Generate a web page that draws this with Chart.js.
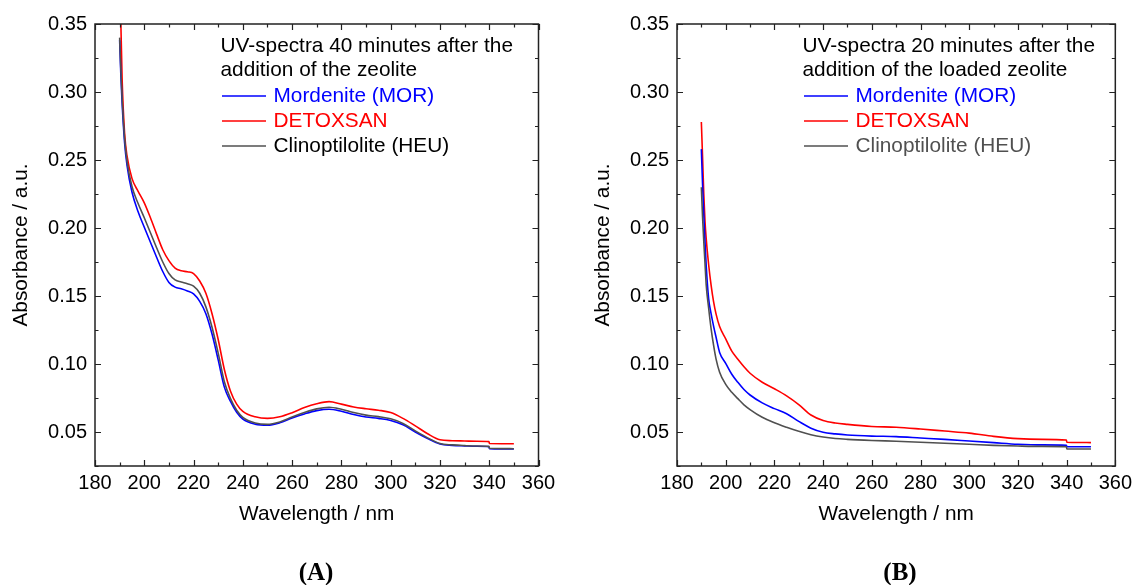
<!DOCTYPE html>
<html><head><meta charset="utf-8">
<script src="https://cdn.jsdelivr.net/npm/chart.js@4.4.1/dist/chart.umd.min.js"></script>
<style>
html,body{margin:0;padding:0;background:#fff;width:1137px;height:585px;overflow:hidden}
canvas{position:absolute;top:0}
#cA{left:0}
#cB{left:582px}
</style></head><body>
<canvas id="cA" width="580" height="585"></canvas>
<canvas id="cB" width="555" height="585"></canvas>
<script>
// ---- tick labels ----
const xTickLabels = [180, 200, 220, 240, 260, 280, 300, 320, 340, 360];
const yTickLabels = [0.05, 0.10, 0.15, 0.20, 0.25, 0.30, 0.35];

// ---- series names / legend texts ----
const seriesNames = ['Mordenite (MOR)', 'DETOXSAN', 'Clinoptilolite (HEU)'];
const legendTitleA = ['UV-spectra 40 minutes after the', 'addition of the zeolite'];
const legendTitleB = ['UV-spectra 20 minutes after the', 'addition of the loaded zeolite'];

// ---- panel (A): 40 minutes after addition of the zeolite ----
const wavelengthA = [190, 190.5, 191, 192, 193, 195, 197.5, 200, 202.5, 205, 207.5, 210, 212.5, 215, 217.5,
  220, 222.5, 225, 227.5, 230, 232.5, 235, 237.5, 240, 245, 250, 255, 260, 265, 270, 275, 280, 285, 290, 295,
  300, 305, 310, 315, 320, 325, 330, 335, 339.9, 340.1, 345, 350];
const morA = [0.338, 0.312, 0.292, 0.263, 0.246, 0.2265, 0.212, 0.2005, 0.1895, 0.1785, 0.168, 0.160, 0.1565, 0.1553, 0.1537,
  0.1515, 0.146, 0.137, 0.122, 0.103, 0.083, 0.0725, 0.0645, 0.0595, 0.0558, 0.0550, 0.0568, 0.0603, 0.0633, 0.0657, 0.0667, 0.0652, 0.0628, 0.0610, 0.0600,
  0.0585, 0.0553, 0.0500, 0.0452, 0.0412, 0.0402, 0.0398, 0.0395, 0.0392, 0.0378, 0.0376, 0.0375];
const detoxA = [0.372, 0.350, 0.310, 0.270, 0.253, 0.2365, 0.227, 0.2185, 0.2075, 0.1955, 0.184, 0.176, 0.1705, 0.1685, 0.1678,
  0.1665, 0.161, 0.152, 0.137, 0.118, 0.096, 0.080, 0.0705, 0.0652, 0.0612, 0.0600, 0.0612, 0.0642, 0.0680, 0.0708, 0.0723, 0.0705, 0.0684, 0.0671, 0.0660,
  0.0643, 0.0600, 0.0545, 0.0487, 0.0443, 0.0436, 0.0434, 0.0432, 0.0429, 0.0415, 0.0414, 0.0414];
const heuA = [0.340, 0.316, 0.296, 0.266, 0.249, 0.2305, 0.218, 0.2075, 0.1965, 0.1855, 0.175, 0.1665, 0.1618, 0.1603, 0.159,
  0.1572, 0.152, 0.142, 0.127, 0.108, 0.087, 0.0745, 0.066, 0.0608, 0.0566, 0.0556, 0.0574, 0.0610, 0.0643, 0.0670, 0.0682, 0.0667, 0.0643, 0.0624, 0.0613,
  0.0597, 0.0563, 0.0508, 0.0457, 0.0415, 0.0405, 0.0400, 0.0397, 0.0394, 0.0380, 0.0378, 0.0377];

// ---- panel (B): 20 minutes after addition of the loaded zeolite ----
const wavelengthB = [190, 190.5, 191, 191.5, 192, 193, 194, 195, 196, 197.5, 200, 202.5, 205, 207.5, 210,
  215, 220, 225, 230, 235, 240, 245, 250, 260, 270, 280, 290, 300, 310, 320, 330, 339.9, 340.1, 345, 350];
const morB = [0.258, 0.232, 0.210, 0.190, 0.172, 0.148, 0.137, 0.128, 0.120, 0.1085, 0.1005, 0.0925, 0.0865, 0.0812, 0.0772,
  0.0714, 0.0672, 0.0634, 0.0578, 0.0528, 0.0498, 0.0486, 0.0478, 0.0470, 0.0466, 0.0456, 0.0446, 0.0434, 0.0422, 0.0410, 0.0405, 0.0402, 0.0392, 0.0392, 0.0392];
const detoxB = [0.278, 0.252, 0.225, 0.205, 0.192, 0.173, 0.158, 0.146, 0.137, 0.1275, 0.1185, 0.1095, 0.1035, 0.0980, 0.0932,
  0.0866, 0.0818, 0.0766, 0.0702, 0.0625, 0.0585, 0.0566, 0.0556, 0.0541, 0.0535, 0.0522, 0.0507, 0.0492, 0.0468, 0.0451, 0.0446, 0.0441, 0.0425, 0.0423, 0.0422];
const heuB = [0.230, 0.208, 0.190, 0.174, 0.158, 0.141, 0.126, 0.114, 0.104, 0.094, 0.085, 0.0792, 0.0745, 0.0700, 0.0665,
  0.0608, 0.0568, 0.0535, 0.0505, 0.0480, 0.0463, 0.0452, 0.0446, 0.0438, 0.0432, 0.0425, 0.0417, 0.0410, 0.0402, 0.0397, 0.0394, 0.0392, 0.0376, 0.0375, 0.0375];

// ---- styling ----
const FONT = "'Liberation Sans', Arial, Helvetica, sans-serif";
const lineColors = ['#0000ff', '#ff0000', '#505050'];
const drawOrder = [2, 0, 1];

function panelPlugin(legendTitle, textColors, panelLabel, panelX) {
  return {
    id: 'panelDecor',
    afterDraw(chart) {
      const { ctx, chartArea: a, scales: { x, y } } = chart;
      ctx.save();
      // frame
      ctx.strokeStyle = '#222';
      ctx.lineWidth = 1.5;
      ctx.strokeRect(a.left, a.top, a.right - a.left, a.bottom - a.top);
      // inward ticks on all four sides
      ctx.lineWidth = 1.2;
      ctx.beginPath();
      for (let v = x.min; v <= x.max + 1e-9; v += 10) {
        const px = Math.round(x.getPixelForValue(v)) + 0.5;
        const L = (Math.round(v) % 20 === 0) ? 6 : 3.5;
        ctx.moveTo(px, a.bottom); ctx.lineTo(px, a.bottom - L);
        ctx.moveTo(px, a.top); ctx.lineTo(px, a.top + L);
      }
      for (let i = 1; i * 0.025 < y.max + 1e-9; i++) {
        const v = i * 0.025;
        if (v < y.min - 1e-9) continue;
        const py = Math.round(y.getPixelForValue(v)) + 0.5;
        const L = (i % 2 === 0) ? 6 : 3.5;
        ctx.moveTo(a.left, py); ctx.lineTo(a.left + L, py);
        ctx.moveTo(a.right, py); ctx.lineTo(a.right - L, py);
      }
      ctx.stroke();
      // legend block
      ctx.font = '20.8px ' + FONT;
      ctx.textAlign = 'left';
      ctx.textBaseline = 'alphabetic';
      ctx.fillStyle = '#000';
      const tx = a.left + 125.5;
      ctx.fillText(legendTitle[0], tx, 52);
      ctx.fillText(legendTitle[1], tx, 76);
      const itemBase = [102, 127, 152];
      seriesNames.forEach((name, i) => {
        ctx.strokeStyle = lineColors[i];
        ctx.lineWidth = 1.7;
        ctx.beginPath();
        ctx.moveTo(a.left + 127, itemBase[i] - 6);
        ctx.lineTo(a.left + 171, itemBase[i] - 6);
        ctx.stroke();
        ctx.fillStyle = textColors[i];
        ctx.fillText(name, a.left + 178.5, itemBase[i]);
      });
      // panel label
      ctx.fillStyle = '#000';
      ctx.font = 'bold 25px "Liberation Serif", "Times New Roman", serif';
      ctx.textAlign = 'center';
      ctx.textBaseline = 'alphabetic';
      ctx.fillText(panelLabel, panelX, 580);
      ctx.restore();
    }
  };
}

function makeChart(id, xs, series, legendTitle, textColors, panelLabel, panelX, padRight) {
  const datasets = drawOrder.map(i => ({
    label: seriesNames[i],
    data: xs.map((w, j) => ({ x: w, y: series[i][j] })),
    borderColor: lineColors[i],
    backgroundColor: lineColors[i],
    borderWidth: 1.6,
    pointRadius: 0,
    cubicInterpolationMode: 'monotone',
    fill: false
  }));
  const tickFont = { family: FONT, size: 20 };
  const titleFont = { family: FONT, size: 20.8 };
  return new Chart(document.getElementById(id), {
    type: 'line',
    data: { datasets },
    options: {
      responsive: false,
      animation: false,
      devicePixelRatio: 1,
      layout: { padding: { left: 0, top: 24, right: padRight, bottom: 55 } },
      plugins: { legend: { display: false }, tooltip: { enabled: false } },
      scales: {
        x: {
          type: 'linear', min: 180, max: 360,
          grid: { display: false, drawTicks: false },
          border: { display: false },
          afterBuildTicks(s) { s.ticks = xTickLabels.map(v => ({ value: v })); },
          afterFit(s) { s.height = 64; },
          ticks: { padding: 5, color: '#000', font: tickFont, maxRotation: 0, autoSkip: false, callback: v => String(v) },
          title: { display: true, text: 'Wavelength / nm', color: '#000', font: titleFont, padding: { top: 0, bottom: 3 } }
        },
        y: {
          type: 'linear', min: 0.025, max: 0.35,
          grid: { display: false, drawTicks: false },
          border: { display: false },
          afterBuildTicks(s) { s.ticks = yTickLabels.map(v => ({ value: v })); },
          afterFit(s) { s.width = 95; },
          ticks: { padding: 8, color: '#000', font: tickFont, autoSkip: false, callback: v => Number(v).toFixed(2) },
          title: { display: true, text: 'Absorbance / a.u.', color: '#000', font: titleFont, padding: { top: 8.5, bottom: 0 } }
        }
      }
    },
    plugins: [panelPlugin(legendTitle, textColors, panelLabel, panelX)]
  });
}

makeChart('cA', wavelengthA, [morA, detoxA, heuA], legendTitleA, ['#0000ff', '#ff0000', '#000000'], '(A)', 316, 41.5);
makeChart('cB', wavelengthB, [morB, detoxB, heuB], legendTitleB, ['#0000ff', '#ff0000', '#505050'], '(B)', 318, 16.5);
</script>
</body></html>
